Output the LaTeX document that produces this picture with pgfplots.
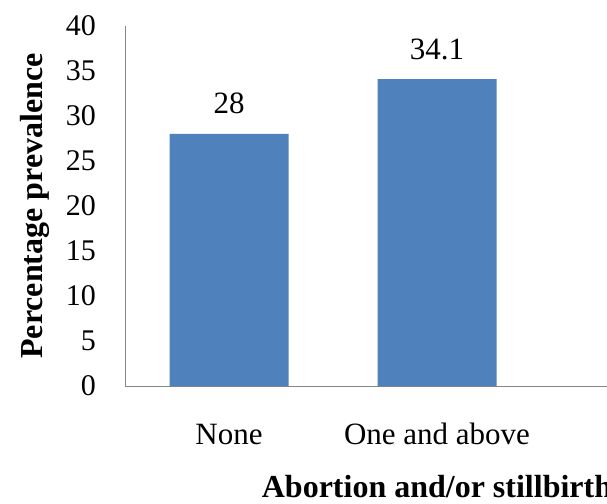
\documentclass[border=0pt]{standalone}
\usepackage{fontspec}
\setmainfont{Liberation Serif}
\usepackage{pgfplots}
\pgfplotsset{compat=1.18}
\definecolor{barblue}{HTML}{4F81BD}
\definecolor{axgray}{HTML}{868686}
\begin{document}
\begin{tikzpicture}
\useasboundingbox (0,0) rectangle (607pt,503pt);
\begin{axis}[
  at={(125pt,117pt)}, anchor=south west,
  scale only axis, width=624pt, height=360pt,
  xmin=-0.5, xmax=2.5, ymin=0, ymax=40,
  ytick={0,5,...,40},
  xtick={0,1}, xticklabels={None,One and above},
  axis x line*=bottom, axis y line*=left,
  axis line style={axgray, line width=0.8pt},
  x axis line style={-}, y axis line style={-},
  major tick length=0pt,
  /pgf/number format/assume math mode=true,
  tick label style={font=\fontsize{30}{34}\selectfont, text=black, inner sep=0pt},
  yticklabel style={anchor=east, xshift=-29pt},
  xticklabel style={font=\fontsize{31}{35}\selectfont, anchor=base, yshift=-58pt},
  ybar, bar width=119pt,
  nodes near coords,
  nodes near coords style={font=\fontsize{31}{35}\selectfont, text=black, anchor=base, inner sep=0pt, yshift=20pt},
  xlabel={\textbf{Abortion and/or stillbirth}},
  xlabel style={font=\fontsize{32}{36}\selectfont, at={(rel axis cs:0.5,0)}, anchor=base, inner sep=0pt, yshift=-111pt},
  ylabel={\textbf{Percentage prevalence}},
  ylabel style={font=\fontsize{32}{36}\selectfont, at={(rel axis cs:0,0.5)}, anchor=base, inner sep=0pt, yshift=82pt},
]
\addplot[fill=barblue, draw=none] coordinates {(0,28) (1,34.1)};
\end{axis}
\end{tikzpicture}
\end{document}
